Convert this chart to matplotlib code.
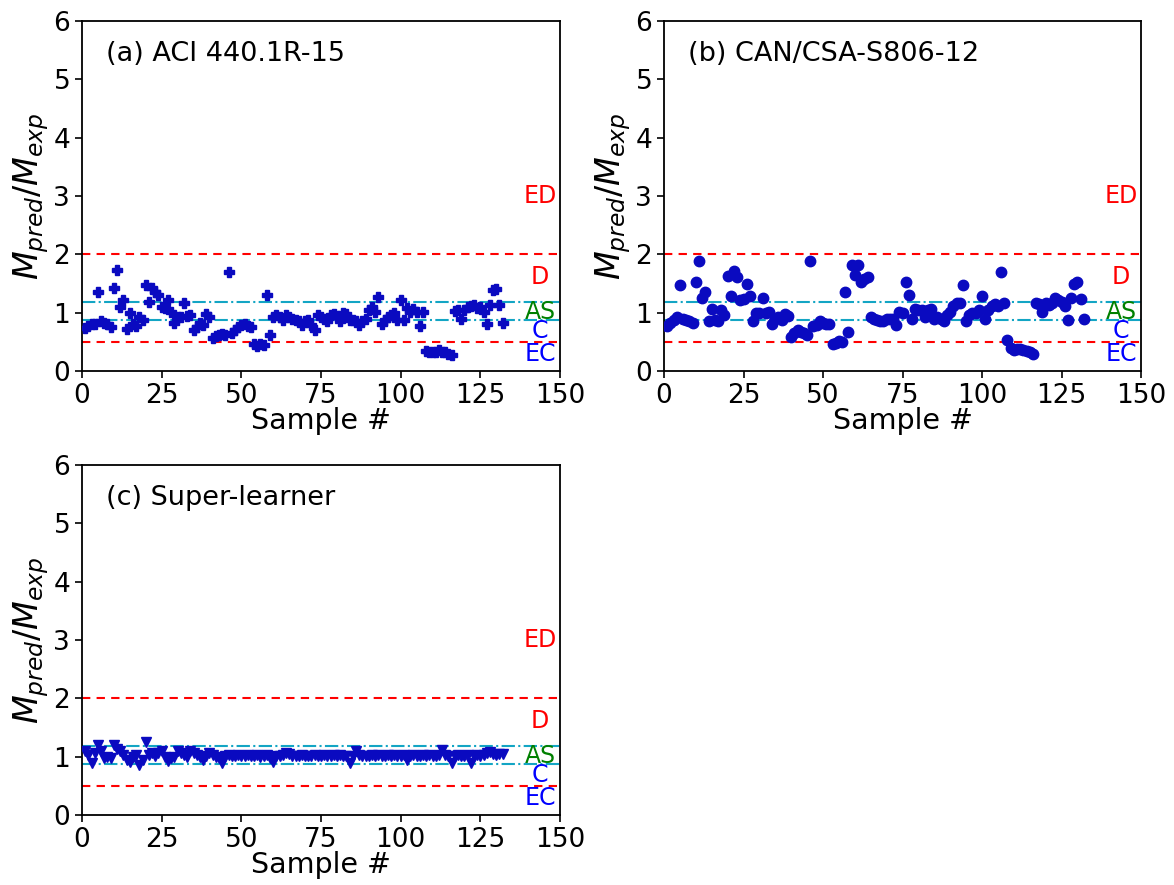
import matplotlib
matplotlib.use("Agg")
import matplotlib.pyplot as plt
import numpy as np

# ---------------- data ----------------
aci = [0.73,0.77,0.80,0.80,1.36,0.86,0.83,0.80,0.76,1.42,
       1.73,1.10,1.22,0.72,0.99,0.80,0.78,0.93,0.87,1.48,
       1.18,1.42,1.36,1.30,1.09,1.08,1.22,1.02,0.82,0.93,
       0.93,1.16,0.95,0.96,0.70,0.76,0.83,0.79,0.98,0.93,
       0.56,0.60,0.62,0.63,0.62,1.69,0.65,0.70,0.75,0.79,
       0.80,0.77,0.75,0.46,0.43,0.47,0.44,1.30,0.62,0.93,
       0.96,0.93,0.87,0.96,0.93,0.90,0.87,0.85,0.79,0.85,
       0.87,0.79,0.71,0.96,0.93,0.90,0.85,0.96,0.98,0.95,
       0.86,0.99,0.98,0.88,0.88,0.85,0.79,0.85,0.90,1.05,
       1.09,1.02,1.27,0.81,0.88,0.93,0.96,1.00,0.88,1.21,
       0.88,1.08,1.02,1.06,1.02,0.77,1.02,0.35,0.33,0.33,
       0.33,0.36,0.33,0.33,0.30,0.27,1.03,1.04,0.90,1.04,
       1.09,1.11,1.13,1.08,1.10,1.02,0.81,1.13,1.39,1.40,
       1.13,0.83]

csa = [0.77,0.82,0.87,0.93,1.48,0.90,0.87,0.85,0.82,1.53,
       1.88,1.25,1.36,0.86,1.07,0.87,0.86,1.05,0.96,1.63,
       1.29,1.72,1.62,1.22,1.23,1.50,1.29,0.86,1.00,1.00,
       1.26,1.00,1.02,0.81,0.90,0.93,0.87,0.98,0.94,0.59,
       0.65,0.70,0.67,0.65,0.62,1.88,0.77,0.79,0.86,0.82,
       0.81,0.81,0.47,0.48,0.52,0.50,1.36,0.67,1.82,1.65,
       1.82,1.53,1.57,1.62,0.93,0.90,0.87,0.85,0.86,0.90,
       0.90,0.90,0.79,1.02,1.00,1.52,1.30,0.89,1.06,1.04,
       1.05,0.93,1.05,1.06,0.90,0.93,0.90,0.86,0.96,1.02,
       1.12,1.16,1.16,1.48,0.85,0.96,0.99,1.00,1.05,1.29,
       0.90,1.05,1.12,1.15,1.12,1.69,1.16,0.53,0.39,0.36,
       0.37,0.37,0.36,0.35,0.33,0.30,1.16,1.15,1.02,1.16,
       1.13,1.17,1.25,1.22,1.19,1.12,0.87,1.25,1.50,1.53,
       1.23,0.89]

sl = [1.09,1.03,0.89,1.06,1.20,1.09,0.97,0.99,0.97,1.20,
      1.14,1.09,1.03,0.95,0.91,1.00,1.03,0.86,0.95,1.26,
      1.03,1.06,1.01,1.06,1.09,1.00,0.93,0.97,1.00,1.09,
      1.06,1.03,1.00,1.09,1.06,1.03,0.99,0.94,1.01,1.06,
      1.03,1.00,0.97,0.89,1.02,1.03,1.02,1.01,1.03,1.02,
      1.02,1.03,1.01,1.02,1.03,1.00,1.02,1.03,0.98,0.91,
      1.01,1.02,1.03,1.06,1.05,1.02,1.01,1.02,1.03,1.02,
      1.01,1.02,1.03,1.02,1.02,1.03,1.02,1.01,1.03,1.02,
      1.03,1.02,1.01,0.90,1.02,1.09,1.03,1.02,1.01,1.02,
      1.03,1.02,1.03,1.02,1.01,1.03,1.02,1.03,1.02,1.01,
      1.03,0.94,1.02,1.03,1.02,1.01,1.03,1.02,1.03,1.02,
      1.01,1.03,1.12,1.03,1.02,0.90,1.02,1.03,1.02,1.01,
      1.03,0.90,1.02,1.03,1.02,1.03,1.06,1.08,1.04,1.03,
      1.05,1.04]

panel_titles = ["(a) ACI 440.1R-15", "(b) CAN/CSA-S806-12", "(c) Super-learner"]
markers = ["P", "o", "v"]
zone_labels = ["ED", "D", "AS", "C", "EC"]
zone_y = [3.0, 1.62, 1.01, 0.69, 0.29]
zone_colors = ["red", "red", "green", "blue", "blue"]
red_lines = [2.0, 0.5]
cyan_lines = [1.18, 0.87]
xticks = [0, 25, 50, 75, 100, 125, 150]
yticks = [0, 1, 2, 3, 4, 5, 6]

W, H = 1174, 885
fig = plt.figure(figsize=(W/100, H/100), dpi=100)

def px_axes(x0, x1, ytop, ybot):
    return fig.add_axes([x0/W, 1-ybot/H, (x1-x0)/W, (ybot-ytop)/H])

axes = [px_axes(82, 560, 21, 371), px_axes(664, 1141, 21, 371), px_axes(82, 560, 465, 815)]
series = [aci, csa, sl]
col = "#0a0ac0"
msizes = [7, 7.5, 6.5]

for ax, data, mk, ms, title in zip(axes, series, markers, msizes, panel_titles):
    x = np.arange(1, len(data)+1)
    ax.plot(x, data, linestyle="none", marker=mk, color=col, markersize=ms, zorder=3)
    for v in red_lines:
        ax.axhline(v, color="red", linestyle="--", lw=1.5, dashes=(4, 3), zorder=2)
    for v in cyan_lines:
        ax.axhline(v, color="#13a5c4", linestyle="-.", lw=1.5, zorder=2)
    for lab, yv, c in zip(zone_labels, zone_y, zone_colors):
        ax.text(143.7, yv, lab, color=c, fontsize=17, ha="center", va="center")
    ax.text(0.05, 0.905, title, transform=ax.transAxes, fontsize=19.5, va="center", ha="left")
    ax.set_xlim(0, 150)
    ax.set_ylim(0, 6)
    ax.set_xticks(xticks)
    ax.set_yticks(yticks)
    ax.tick_params(labelsize=19, length=5, width=1.2)
    for s in ax.spines.values():
        s.set_linewidth(1.3)
    ax.set_xlabel("Sample #", fontsize=20.5, labelpad=-1)
    ax.set_ylabel("$M_{pred}/M_{exp}$", fontsize=24, labelpad=2)

fig.savefig("out.png", dpi=100)
